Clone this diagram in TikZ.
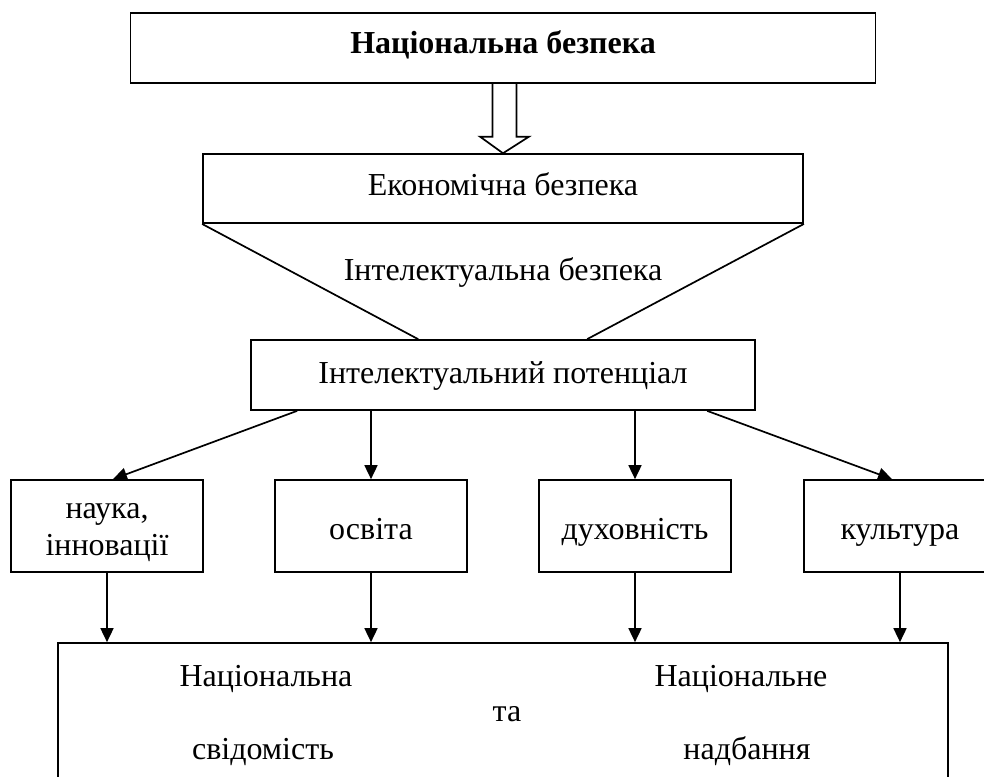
\documentclass[tikz,border=0pt]{standalone}
\usepackage{fontspec}
\setmainfont{Liberation Serif}
\usetikzlibrary{arrows.meta,calc}
\tikzset{
  box/.style={draw, line width=1.7pt, inner sep=0pt, align=center,
    font=\fontsize{32}{37}\selectfont},
  rowbox/.style={box, minimum width=192pt, minimum height=92pt,
    text height=28pt, text depth=2pt},
  txt/.style={inner sep=0pt, anchor=base, font=\fontsize{32}{37}\selectfont},
  conn/.style={line width=1.7pt},
  arr/.style={line width=1.7pt, -{Triangle[length=14pt,width=13pt]}}
}
\begin{document}
\begin{tikzpicture}[x=1pt,y=-1pt]
\useasboundingbox (0,0) rectangle (984,776);
\clip (0,0) rectangle (984,776);
% boxes
\node[box, minimum width=745pt, minimum height=70pt, text height=22pt, text depth=11.6pt,
  font=\fontsize{32}{37}\selectfont\bfseries] (top) at (503,48.3) {Національна безпека};
\node[box, minimum width=600pt, minimum height=69pt, text height=22pt, text depth=8.2pt] (ek) at (503,188.6) {Економічна безпека};
\node[box, minimum width=504pt, minimum height=70pt, text height=22pt, text depth=6pt] (ip) at (503,375) {Інтелектуальний потенціал};
\node[txt] (ib) at (503,280.5) {Інтелектуальна безпека};
\node[box, minimum width=192pt, minimum height=92pt, text height=60pt, text depth=2pt] (nauka) at (107,526)
  {\begin{tabular}[b]{@{}c@{}}наука,\\інновації\end{tabular}};
\node[rowbox] (osvita) at (371,526) {освіта};
\node[rowbox] (dukh) at (635,526) {духовність};
\node[rowbox] (kult) at (900,526) {культура};
\node[box, minimum width=890pt, minimum height=160pt] (bot) at (503,723) {};
\node[txt] (t1) at (266,686) {Національна};
\node[txt] (t2) at (741,686) {Національне};
\node[txt] (t3) at (507,721) {та};
\node[txt] (t4) at (263,759) {свідомість};
\node[txt] (t5) at (747,759) {надбання};
% hollow arrow
\draw[conn, line join=miter, fill=white]
  ($(top.south)+(-10.5,0)$) -- ($(top.south)+(-10.5,52.5)$) -- ($(top.south)+(-23,52.5)$)
  -- (ek.north) -- ($(top.south)+(26,52.5)$) -- ($(top.south)+(13.5,52.5)$)
  -- ($(top.south)+(13.5,0)$);
% funnel
\coordinate (fl) at ($(ip.north west)+(168,0)$);
\coordinate (fr) at ($(ip.north west)+(337,0)$);
\draw[conn] (ek.south west) -- (fl);
\draw[conn] (ek.south east) -- (fr);
% arrows from potential
\draw[arr] ($(ip.south west)+(47,0)$) -- ($(nauka.north)+(6,0)$);
\draw[arr] (osvita.north |- ip.south) -- (osvita.north);
\draw[arr] (dukh.north |- ip.south) -- (dukh.north);
\draw[arr] ($(ip.south west)+(457,0)$) -- ($(kult.north)+(-8,0)$);
% arrows to bottom
\draw[arr] (nauka.south) -- (nauka.south |- bot.north);
\draw[arr] (osvita.south) -- (osvita.south |- bot.north);
\draw[arr] (dukh.south) -- (dukh.south |- bot.north);
\draw[arr] (kult.south) -- (kult.south |- bot.north);
\end{tikzpicture}
\end{document}
